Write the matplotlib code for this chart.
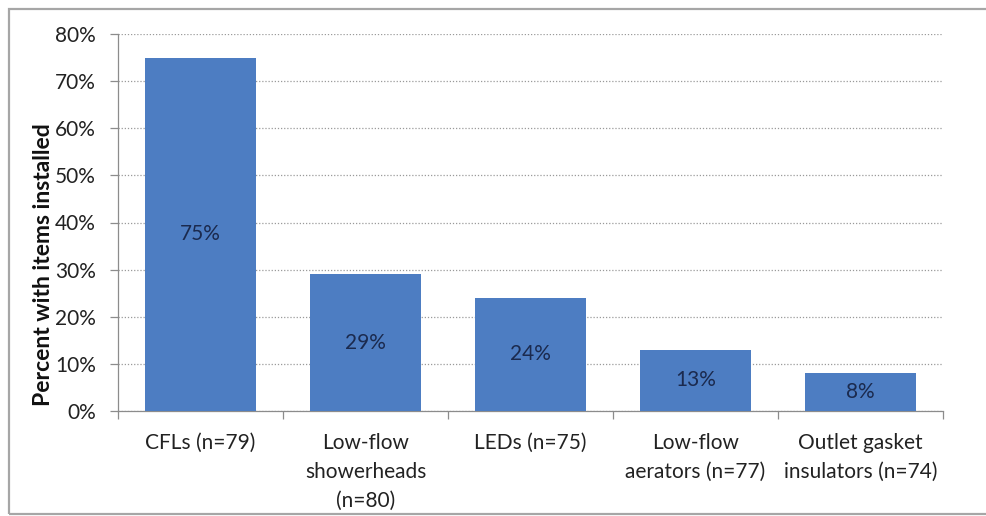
import matplotlib
matplotlib.use("Agg")
import matplotlib.pyplot as plt
from matplotlib.patches import Rectangle
from matplotlib.ticker import FuncFormatter, MultipleLocator

categories = ["CFLs (n=79)", "Low-flow\nshowerheads\n(n=80)", "LEDs (n=75)",
              "Low-flow\naerators (n=77)", "Outlet gasket\ninsulators (n=74)"]
values = [75, 29, 24, 13, 8]
y_label = "Percent with items installed"

plt.rcParams['font.family'] = ['Lato', 'DejaVu Sans']

fig = plt.figure(figsize=(9.87, 5.16), dpi=100)
fig.patch.set_facecolor("white")

# outer chart frame
fig.patches.append(Rectangle((9 / 987, 2 / 516), 1.0, 505 / 516, transform=fig.transFigure,
                             fill=False, edgecolor="#a6a6a6", linewidth=1.6, zorder=0))

ax = fig.add_axes([118 / 987, 105 / 516, 825 / 987, 377 / 516])
x = range(len(categories))
ax.bar(x, values, width=0.67, color="#4d7dc2", zorder=3)

for xi, v in zip(x, values):
    ax.text(xi, v / 2, f"{v}%", ha="center", va="center", fontsize=15,
            color="#1b2a4e", zorder=4)

ax.set_xlim(-0.5, len(categories) - 0.5)
ax.set_ylim(0, 80)
ax.yaxis.set_major_locator(MultipleLocator(10))
ax.yaxis.set_major_formatter(FuncFormatter(lambda v, p: f"{v:.0f}%"))
ax.grid(axis="y", linestyle=(0, (1, 1.5)), color="#9a9a9a", linewidth=0.9, zorder=0)

ax.set_xticks(list(x))
ax.set_xticklabels(categories, fontsize=15, color="#222222", linespacing=1.55)
ax.tick_params(axis="x", length=0, pad=16)
# category boundary ticks on the x axis
ax.set_xticks([i - 0.5 for i in range(len(categories) + 1)], minor=True)
ax.tick_params(axis="x", which="minor", length=6, color="#8c8c8c", width=0.9)
ax.tick_params(axis="y", length=6, color="#8c8c8c", width=0.9, labelsize=15,
               labelcolor="#222222", pad=10)

for side in ["top", "right"]:
    ax.spines[side].set_visible(False)
for side in ["left", "bottom"]:
    ax.spines[side].set_color("#8c8c8c")
    ax.spines[side].set_linewidth(0.9)

ax.set_ylabel(y_label, fontsize=16.5, fontweight="bold", color="#111111")
ax.yaxis.set_label_coords(-0.077, 0.387)

fig.savefig("out.png", dpi=100)
